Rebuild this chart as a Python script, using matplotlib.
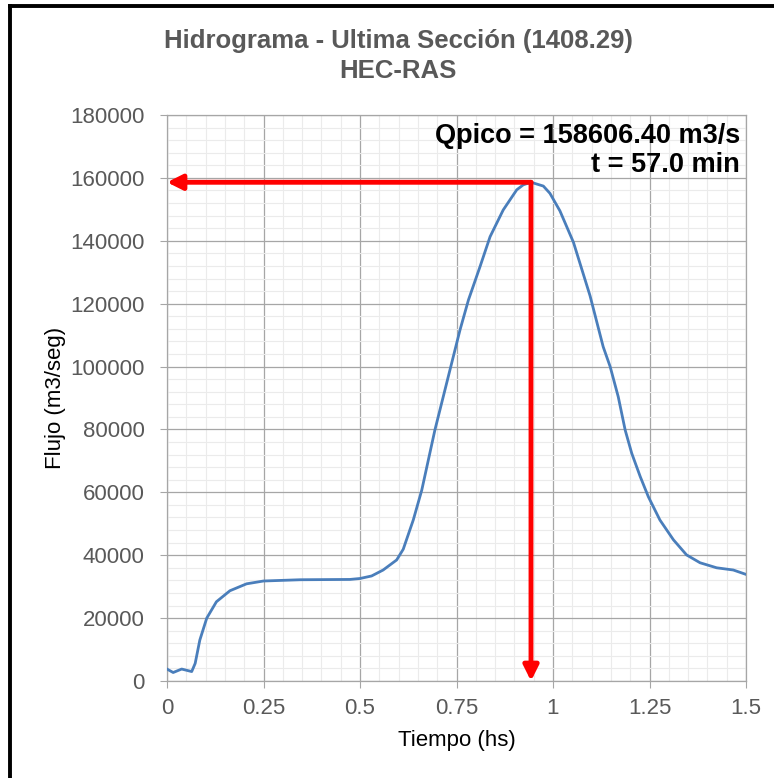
import numpy as np
import matplotlib.pyplot as plt
from matplotlib.ticker import MultipleLocator
from matplotlib.lines import Line2D

plt.rcParams['font.family'] = ['Liberation Sans', 'DejaVu Sans']

# hydrograph (time in hours, flow in m3/s)
tiempo = [0, 0.016, 0.038, 0.064, 0.073, 0.085, 0.103, 0.128, 0.163, 0.206,
          0.25, 0.345, 0.474, 0.50, 0.53, 0.56, 0.595, 0.612, 0.638, 0.66,
          0.694, 0.733, 0.759, 0.781, 0.811, 0.837, 0.871, 0.906, 0.923, 0.943,
          0.975, 0.992, 1.018, 1.053, 1.096, 1.130, 1.148, 1.169, 1.187, 1.204,
          1.226, 1.247, 1.277, 1.312, 1.346, 1.381, 1.424, 1.467, 1.5]
flujo = [3800, 2700, 3800, 3000, 5600, 13000, 20000, 25200, 28700, 30900,
         31800, 32200, 32300, 32600, 33400, 35300, 38500, 41900, 51200, 60700,
         79800, 98900, 111600, 121200, 131800, 141300, 149800, 156200, 157800, 158606.4,
         157400, 155100, 149500, 139500, 122500, 106300, 100000, 90400, 79800, 72400,
         65000, 58600, 51200, 44900, 40100, 37600, 36000, 35300, 33900]

q_pico = 158606.40
t_pico_min = 57.0
t_pico = tiempo[int(np.argmax(flujo))]

gray = '#595959'

fig = plt.figure(figsize=(7.74, 7.78), dpi=100)
ax = fig.add_axes([167 / 774, 1 - 681 / 778, (746 - 167) / 774, (681 - 115) / 778])

ax.plot(tiempo, flujo, color='#4a7ebb', lw=2.0, zorder=3)

ax.set_xlim(0, 1.5)
ax.set_ylim(0, 180000)
ax.xaxis.set_major_locator(MultipleLocator(0.25))
ax.xaxis.set_minor_locator(MultipleLocator(0.05))
ax.yaxis.set_major_locator(MultipleLocator(20000))
ax.yaxis.set_minor_locator(MultipleLocator(4000))
ax.set_xticks([0, 0.25, 0.5, 0.75, 1, 1.25, 1.5], ['0', '0.25', '0.5', '0.75', '1', '1.25', '1.5'])

ax.grid(which='major', color='#a6a6a6', lw=0.9, zorder=1)
ax.grid(which='minor', color='#ebebeb', lw=0.8, zorder=0)
ax.tick_params(which='major', length=5, color='#a6a6a6', labelsize=16, labelcolor=gray)
ax.tick_params(axis='y', pad=11)
ax.tick_params(axis='x', pad=7)
ax.tick_params(which='minor', length=0)
for s in ax.spines.values():
    s.set_color('#a6a6a6')
    s.set_linewidth(0.9)

ax.set_xlabel('Tiempo (hs)', fontsize=16, labelpad=8)
ax.set_ylabel('Flujo (m3/seg)', fontsize=16, labelpad=3)

# red arrows from the peak to both axes
ax.annotate('', xy=(0, q_pico), xytext=(t_pico, q_pico),
            arrowprops=dict(arrowstyle='-|>,head_length=0.9,head_width=0.45',
                            color='#ff0000', lw=3.5, shrinkA=0, shrinkB=0), zorder=4)
ax.annotate('', xy=(t_pico, 0), xytext=(t_pico, q_pico),
            arrowprops=dict(arrowstyle='-|>,head_length=0.9,head_width=0.45',
                            color='#ff0000', lw=3.5, shrinkA=0, shrinkB=0), zorder=4)

ax.text(0.99, 0.985, f'Qpico = {q_pico:.2f} m3/s\nt = {t_pico_min:.1f} min',
        transform=ax.transAxes, ha='right', va='top', fontsize=19.5,
        fontweight='bold', linespacing=1.15, zorder=5)

fig.text(398 / 774, 1 - 56 / 778, 'Hidrograma - Ultima Sección (1408.29)\nHEC-RAS',
         ha='center', va='center', fontsize=18.5, fontweight='bold', color=gray,
         linespacing=1.35)

# chart frame (only top and left edges are inside the picture)
fig.add_artist(Line2D([9.5 / 774, 9.5 / 774], [0, 1 - 5.5 / 778], color='black', lw=2.8))
fig.add_artist(Line2D([9.5 / 774, 1], [1 - 5.5 / 778, 1 - 5.5 / 778], color='black', lw=2.8))

fig.savefig('out.png', dpi=100)
